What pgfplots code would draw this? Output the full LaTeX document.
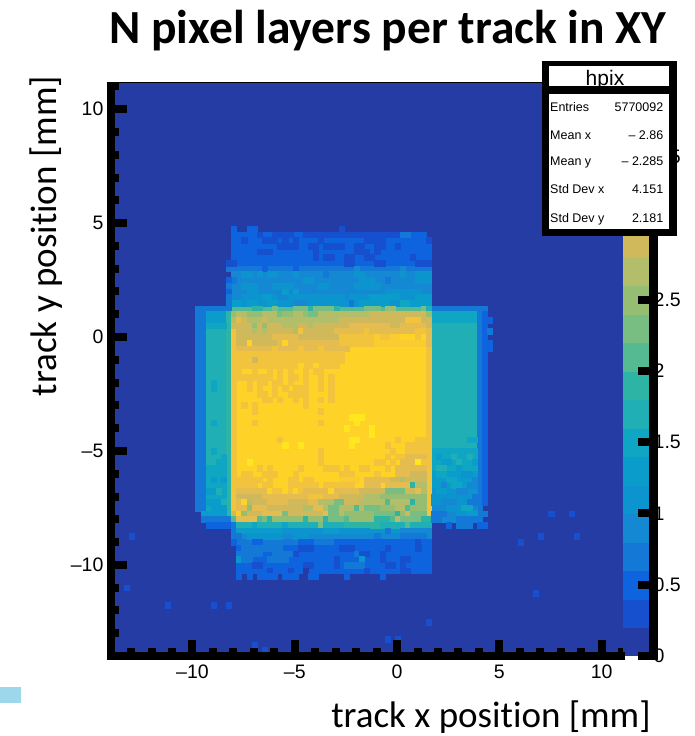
\documentclass[border=0pt]{standalone}
\usepackage{pgfplots}
\pgfplotsset{compat=1.18}
\usepackage{fontspec}
\setmainfont{Liberation Sans}
\newfontfamily\carl[Ligatures=NoCommon]{Carlito}
\definecolor{c0}{HTML}{263CA5}\definecolor{c1}{HTML}{1750CF}\definecolor{c2}{HTML}{0E63DE}
\definecolor{c3}{HTML}{1478D7}\definecolor{c4}{HTML}{1488D2}\definecolor{c5}{HTML}{0C94CF}
\definecolor{c6}{HTML}{0A9DCC}\definecolor{c7}{HTML}{0FA6C4}\definecolor{c8}{HTML}{1FAFB4}
\definecolor{c9}{HTML}{2DB4A5}\definecolor{c10}{HTML}{55B991}\definecolor{c11}{HTML}{78BE82}
\definecolor{c12}{HTML}{96BE73}\definecolor{c13}{HTML}{B2BE69}\definecolor{c14}{HTML}{D0B95A}
\definecolor{c15}{HTML}{E4BC50}\definecolor{c16}{HTML}{F2C43E}\definecolor{c17}{HTML}{FACC30}
\definecolor{c18}{HTML}{FFD228}\definecolor{c19}{HTML}{FFE61E}
\definecolor{lb}{HTML}{9CD7EC}
% one rectangle of histogram bins: rows r0..r1, columns j0..j1, colour level l
\newcommand\Rect[5]{%
 \pgfmathsetmacro\xa{-8.1+.25*#3}\pgfmathsetmacro\xb{-8.1+.25*(#4+1)}%
 \pgfmathsetmacro\ya{1.375-.25*#1}\pgfmathsetmacro\yb{1.375-.25*(#2+1)}%
 \edef\temp{\noexpand\addplot[fill=c#5,draw=c#5,line width=.15pt,forget plot] coordinates {(\xa,\ya)(\xb,\ya)(\xb,\yb)(\xa,\yb)} -- cycle;}\temp}
\newcommand\Row[2]{\foreach \ja/\jb/\lv in {#2}{\Rect{#1}{#1}{\ja}{\jb}{\lv}}}
\begin{document}
\begin{tikzpicture}[x=1pt,y=1pt]
\path[use as bounding box] (0,0) rectangle (694,736);
\fill[lb] (0,33) rectangle (21,49);
\begin{axis}[at={(110.6pt,80pt)},anchor=south west,scale only axis,width=514.4pt,height=572.5pt,
 xmin=-14,xmax=11.14,ymin=-14,ymax=11.13,axis lines*=left,axis on top,
 axis line style={-,line width=8pt},
 tick align=inside,major tick length=16pt,minor tick length=8pt,
 tick style={line width=8pt,black},
 xtick={-10,-5,0,5,10},ytick={-10,-5,0,5,10},
 xticklabels={--10,--5,0,5,10},yticklabels={--10,--5,0,5,10},
 minor xtick={-13,-12,-11,-9,-8,-7,-6,-4,-3,-2,-1,1,2,3,4,6,7,8,9,11},
 minor ytick={-13,-12,-11,-9,-8,-7,-6,-4,-3,-2,-1,1,2,3,4,6,7,8,9,11},
 tick label style={font=\fontsize{19.5}{20}\selectfont,inner sep=0pt},
 xticklabel style={yshift=-9pt},yticklabel style={anchor=east,xshift=-7pt}]
\addplot[fill=c0,draw=c0,forget plot] coordinates {(-14,-14)(11.14,-14)(11.14,11.13)(-14,11.13)} -- cycle;
% base regions
\Rect{-13}{-12}{0}{37}{2}\Rect{-11}{-8}{0}{38}{2}\Rect{-7}{-7}{-1}{38}{3}
\Rect{-6}{-1}{0}{38}{4}\Rect{0}{0}{0}{38}{10}\Rect{0}{0}{-7}{-1}{3}\Rect{0}{0}{39}{49}{3}
\Rect{1}{38}{0}{38}{18}
\Rect{1}{35}{-7}{-6}{3}\Rect{1}{2}{-5}{-1}{6}\Rect{3}{27}{-5}{-1}{8}\Rect{1}{37}{-1}{-1}{9}
\Rect{28}{35}{-5}{-2}{7}\Rect{36}{36}{-6}{-2}{6}\Rect{37}{37}{-6}{-1}{3}\Rect{38}{38}{-5}{-1}{2}
\Rect{1}{2}{39}{47}{7}\Rect{3}{24}{39}{47}{8}\Rect{1}{37}{48}{48}{3}\Rect{1}{34}{49}{49}{2}
\Rect{25}{28}{39}{47}{7}\Rect{29}{31}{39}{47}{6}\Rect{32}{34}{39}{47}{5}\Rect{35}{37}{39}{47}{4}
\Rect{39}{39}{0}{38}{5}\Rect{40}{40}{0}{38}{4}\Rect{41}{41}{0}{38}{3}\Rect{42}{45}{1}{38}{2}\Rect{46}{46}{1}{37}{2}
\Rect{7}{38}{38}{38}{16}\Rect{1}{36}{0}{0}{16}
% outlying single bins
\Row{40}{-20/-20/1,60/60/1,67/67/1}\Row{49}{-21/-21/1}\Row{52}{-13/-13/1,-4/-4/1,-1/-1/1}
\Row{59}{4/4/1}\Row{60}{6/6/1}\Row{36}{62/62/1,66/66/1}\Row{41}{56/56/1}\Row{50}{59/59/1}
\Row{55}{38/38/1}\Row{58}{30/30/1,32/32/1}
% top band
\Row{-14}{0/0/2,3/4/2,21/21/1}
\Row{-13}{5/5/1,8/11/1,14/32/1,33/34/3}
\Row{-12}{2/2/1,6/8/1,10/10/1,12/12/1,17/17/1,26/29/1,38/38/1}
\Row{-11}{9/12/1,15/16/1,18/21/1,24/25/1,28/29/1,32/32/1}
\Row{-10}{5/7/1,16/16/1,24/26/1,28/28/1}
\Row{-9}{16/16/1,18/19/1,22/23/1,26/27/1,35/35/1}
\Row{-8}{0/0/1,22/23/1,28/29/1,36/38/1,-1/-1/1}
\Row{-7}{6/6/2,12/12/2,24/24/4,33/33/4}
\Row{-6}{2/3/5,5/5/5,7/8/5,12/12/5,18/18/3,24/25/5,33/33/5,36/38/5}
\Row{-5}{0/0/3,14/15/5,25/27/5,30/30/3,36/38/5,-1/-1/2}
\Row{-4}{2/4/5,8/11/5,17/18/5,24/28/5,-1/-1/3}
\Row{-3}{3/4/5,10/10/6,12/12/6,30/36/5,-1/-1/2}
\Row{-2}{2/5/5,6/7/6,8/8/5,11/21/5,23/26/5,27/32/6,33/35/5,36/38/6,-1/-1/3}
\Row{-1}{0/1/6,2/2/5,3/4/6,5/6/5,7/8/6,9/11/5,12/14/4,15/22/5,23/23/3,24/24/5,25/30/6,31/32/5,33/34/7,35/38/6,-1/-1/3}
% upper part of the square
\Row{0}{4/5/9,8/8/11,12/14/11,15/15/9,16/19/11,20/20/9,26/28/11,30/31/12,37/37/11,38/38/8}
\Row{1}{0/0/12,1/2/13,3/5/12,6/8/13,9/9/11,10/11/12,12/13/13,14/14/12,15/16/11,17/26/13,27/37/14,38/38/12}
\Row{2}{0/0/13,1/1/15,2/2/14,3/5/13,6/6/14,7/10/13,11/20/13,21/33/14,34/36/16,37/38/14}
\Row{3}{0/3/14,4/4/12,5/5/14,6/6/12,7/9/14,10/12/13,13/14/14,15/15/13,16/22/14,23/30/15,31/32/14,33/37/15,38/38/14}
\Row{4}{1/3/14,4/4/13,5/5/14,6/6/13,7/11/14,12/12/13,13/13/16,14/19/14,20/25/15,26/26/16,27/35/15,36/37/16,38/38/15}
\Row{5}{1/7/14,8/12/15,13/20/14,21/27/16,28/28/17,29/30/16,31/32/17,33/35/18,36/36/16,37/37/18,38/38/15}
\Row{6}{1/2/14,3/3/18,4/8/14,9/9/15,10/10/18,11/20/15,21/27/16,28/37/17,38/38/15}
\Row{7}{1/22/15,8/8/16,13/13/16,17/17/16}
\Row{8}{1/21/16}\Row{9}{1/21/16,4/4/14}\Row{10}{1/20/16,13/13/18,16/16/18}
\Row{11}{1/1/16,4/4/16,7/7/16,9/9/16,11/11/16,14/14/16,16/17/16}
\Row{12}{1/7/16,9/9/16,11/12/16,14/14/16,17/17/16,19/19/16}
\Row{13}{3/3/16,5/6/16,8/9/16,11/11/16,14/14/16,17/17/16,19/19/16}
\Row{14}{3/3/16,5/5/16,8/8/16,10/10/16,12/14/16,17/17/16,19/19/16}
\Row{15}{5/6/16,8/8/16,11/13/16,14/14/16,19/19/16}
\Row{16}{6/7/16,9/9/16,12/12/16,14/14/16,17/17/16,19/19/16}
\Row{17}{2/2/16,4/4/16,14/14/16}\Row{18}{4/4/16,17/17/16}
\Row{19}{23/25/19}\Row{20}{4/4/16,17/17/16,24/24/19}\Row{21}{22/22/19,27/27/19}\Row{22}{27/27/19}
\Row{23}{9/9/16,23/24/19,32/32/16,36/37/16}\Row{24}{10/10/19,13/13/19,23/23/19,30/30/16,34/37/16}
\Row{25}{17/17/16,31/31/16,34/37/16}
% lower part of the square
\Row{26}{17/17/16,30/30/16,32/33/16,34/37/15}
\Row{27}{3/3/19,17/17/16,28/29/16,31/31/16,33/35/15,36/36/19,37/37/16}
\Row{28}{5/5/16,7/7/16,13/13/16,18/20/16,22/22/16,25/26/16,30/30/16,32/37/15}
\Row{29}{2/3/16,6/8/16,12/12/16,21/23/16,28/28/16,32/34/15,35/37/14}
\Row{30}{1/5/16,7/7/16,11/12/16,14/15/16,21/24/17,26/30/15,31/32/14,33/33/13,34/37/14}
\Row{31}{1/4/16,6/7/16,11/16/16,18/23/16,26/28/15,30/34/15,35/35/9,36/37/13}
\Row{32}{1/6/15,7/7/18,8/9/16,10/10/18,11/11/16,12/12/18,13/13/16,14/18/15,19/19/18,20/24/15,25/29/14,30/33/11,34/35/14,36/36/15,37/37/13}
\Row{33}{1/5/14,6/14/15,15/17/16,18/20/15,21/25/14,26/28/13,29/37/12}
\Row{34}{1/1/15,2/2/18,3/3/13,4/6/14,7/10/15,11/14/14,15/16/15,17/19/13,20/21/11,22/24/14,25/29/13,30/30/10,31/34/13,35/35/9,36/37/12}
\Row{35}{1/2/15,3/3/12,4/6/15,7/13/14,14/15/13,16/17/15,18/18/13,19/20/11,21/23/13,24/24/10,25/25/13,26/28/11,29/31/12,32/33/13,34/34/10,35/37/12}
\Row{36}{0/0/14,1/1/17,2/2/12,3/5/14,6/9/15,10/10/11,11/17/14,18/18/15,19/20/11,21/21/13,22/27/12,28/31/11,32/32/9,33/33/12,34/34/14,35/37/11}
\Row{37}{0/0/10,1/4/15,5/5/10,6/6/11,7/7/9,8/13/12,14/14/9,15/17/12,18/18/9,19/21/11,22/22/10,23/27/12,28/30/9,31/31/10,32/32/13,33/36/11,37/38/9}
\Row{38}{0/0/3,1/3/8,4/4/7,5/9/8,10/10/7,11/16/8,17/17/11,18/21/8,22/28/9,29/33/8,34/34/10,35/38/8}
% lower band
\Row{39}{0/0/3,1/5/6,6/9/6,10/17/5,18/20/6,21/22/5,23/26/5,30/30/3,33/38/4}
\Row{40}{0/1/3,3/9/5,12/14/5,28/28/3,33/37/3}
\Row{41}{0/0/2,4/5/2,13/15/2,20/29/2,30/35/2,36/36/1,37/38/2}
\Row{42}{2/5/3,6/9/3,13/15/1,21/23/1,30/30/1,36/36/1}
\Row{43}{1/5/3,8/11/3,12/12/1,24/24/3,25/26/1,29/29/1}
\Row{44}{1/1/5,2/3/3,7/10/3,20/20/1,25/25/5,29/29/1,33/34/1}
\Row{45}{4/5/1,14/15/1,20/20/1,22/25/3,30/31/1,33/33/1}
\Row{46}{11/11/1,7/7/1,14/14/0,26/26/1,33/34/1,38/38/2}
\Row{47}{1/1/2,3/3/2,5/8/2,10/12/2,15/16/2,22/22/2,29/29/2}
% left band details
\Row{20}{-4/-4/7}\Row{25}{-4/-4/7}\Row{13}{-4/-4/7}\Row{14}{-4/-4/7}
\Row{3}{-5/-2/7}\Row{27}{-3/-2/7}\Row{26}{-2/-2/7}\Row{30}{-4/-4/6,-2/-2/6}\Row{32}{-5/-4/6,-3/-3/8}
\Row{34}{-5/-3/6,-2/-2/8}\Row{35}{-4/-2/6}
% right band details
\Row{23}{46/47/7}\Row{26}{40/40/6,43/43/8,46/46/8}\Row{27}{41/42/6,44/44/8,47/47/6}
\Row{28}{40/41/8,44/44/6}\Row{29}{40/41/7,45/46/5}\Row{30}{42/43/7,47/47/4}\Row{31}{41/41/4,43/44/7,46/47/4}
\Row{32}{40/41/6,44/45/4}\Row{33}{39/43/5,47/47/3}\Row{34}{39/39/5,41/43/4,46/47/3}
\Row{35}{42/44/5,45/46/7}\Row{36}{39/41/3,44/45/5,46/47/6,49/49/3}\Row{37}{39/40/3,44/47/3}
\Row{38}{42/42/2,44/46/3,48/49/2}
\Row{2}{50/50/2}\Row{4}{50/50/3}\Row{6}{50/50/2}\Row{7}{50/50/2}
\end{axis}
\begin{axis}[at={(623pt,80pt)},anchor=south west,scale only axis,width=30.5pt,height=570pt,
 xmin=0,xmax=1,ymin=0,ymax=4,axis lines*=right,axis on top,xtick=\empty,
 axis line style={-,line width=8pt},
 x axis line style={draw=none},
 tick align=inside,major tick length=15.5pt,tick style={line width=8pt,black},
 ytick={0,0.5,1,1.5,2,2.5,3,3.5},yticklabels={0,0.5,1,1.5,2,2.5,3,3.5},
 tick label style={font=\fontsize{19.5}{20}\selectfont,inner sep=0pt},
 yticklabel style={anchor=west,xshift=0pt}]
\addplot[fill=c0,draw=c0,forget plot] coordinates {(0,0)(0.85,0)(0.85,0.2)(0,0.2)} -- cycle;
\addplot[fill=c1,draw=c1,forget plot] coordinates {(0,0.2)(0.85,0.2)(0.85,0.4)(0,0.4)} -- cycle;
\addplot[fill=c2,draw=c2,forget plot] coordinates {(0,0.4)(0.85,0.4)(0.85,0.6)(0,0.6)} -- cycle;
\addplot[fill=c3,draw=c3,forget plot] coordinates {(0,0.6)(0.85,0.6)(0.85,0.8)(0,0.8)} -- cycle;
\addplot[fill=c4,draw=c4,forget plot] coordinates {(0,0.8)(0.85,0.8)(0.85,1.0)(0,1.0)} -- cycle;
\addplot[fill=c5,draw=c5,forget plot] coordinates {(0,1.0)(0.85,1.0)(0.85,1.2)(0,1.2)} -- cycle;
\addplot[fill=c6,draw=c6,forget plot] coordinates {(0,1.2)(0.85,1.2)(0.85,1.4)(0,1.4)} -- cycle;
\addplot[fill=c7,draw=c7,forget plot] coordinates {(0,1.4)(0.85,1.4)(0.85,1.6)(0,1.6)} -- cycle;
\addplot[fill=c8,draw=c8,forget plot] coordinates {(0,1.6)(0.85,1.6)(0.85,1.8)(0,1.8)} -- cycle;
\addplot[fill=c9,draw=c9,forget plot] coordinates {(0,1.8)(0.85,1.8)(0.85,2.0)(0,2.0)} -- cycle;
\addplot[fill=c10,draw=c10,forget plot] coordinates {(0,2.0)(0.85,2.0)(0.85,2.2)(0,2.2)} -- cycle;
\addplot[fill=c11,draw=c11,forget plot] coordinates {(0,2.2)(0.85,2.2)(0.85,2.4)(0,2.4)} -- cycle;
\addplot[fill=c12,draw=c12,forget plot] coordinates {(0,2.4)(0.85,2.4)(0.85,2.6)(0,2.6)} -- cycle;
\addplot[fill=c13,draw=c13,forget plot] coordinates {(0,2.6)(0.85,2.6)(0.85,2.8)(0,2.8)} -- cycle;
\addplot[fill=c14,draw=c14,forget plot] coordinates {(0,2.8)(0.85,2.8)(0.85,3.0)(0,3.0)} -- cycle;
\end{axis}
% frame
\fill (106.7,76) rectangle (625,84);
\fill (106.7,76) rectangle (115,650);
\fill (649.3,76) rectangle (657.7,510);
% top edge of the frame
\draw[line width=1pt] (107,653) -- (545,653);
% statistics box
\fill[white] (545,673) rectangle (673,503.5);
\node[font=\fontsize{21}{22}\selectfont,anchor=base] at (605,650.5) {hpix};
\draw[line width=7.5pt] (545.5,503.5) -- (545.5,673) (673,503.5) -- (673,673) (541.8,503.5) -- (676.7,503.5) (541.8,646) -- (676.7,646);
\draw[line width=5pt] (541.8,672.8) -- (676.7,672.8);
\foreach \yy/\aa/\bb in {629.3/Entries/5770092,601/Mean x/-- 2.86,575/Mean y/-- 2.285,547.3/Std Dev x/4.151,518.3/Std Dev y/2.181}{
 \node[font=\fontsize{12.5}{13}\selectfont,anchor=base west,inner sep=0pt] at (550,\yy-4.5) {\aa};
 \node[font=\fontsize{12.5}{13}\selectfont,anchor=base east,inner sep=0pt] at (663.5,\yy-4.5) {\bb};}
% titles
\node[font=\carl\bfseries\fontsize{47.5}{50}\selectfont] at (388,705) {N pixel layers per track in XY};
\node[font=\carl\fontsize{37}{40}\selectfont,inner sep=0pt] at (491,19) {track x position [mm]};
\node[font=\carl\fontsize{37}{40}\selectfont,rotate=90] at (46,500) {track y position [mm]};
\end{tikzpicture}
\end{document}
